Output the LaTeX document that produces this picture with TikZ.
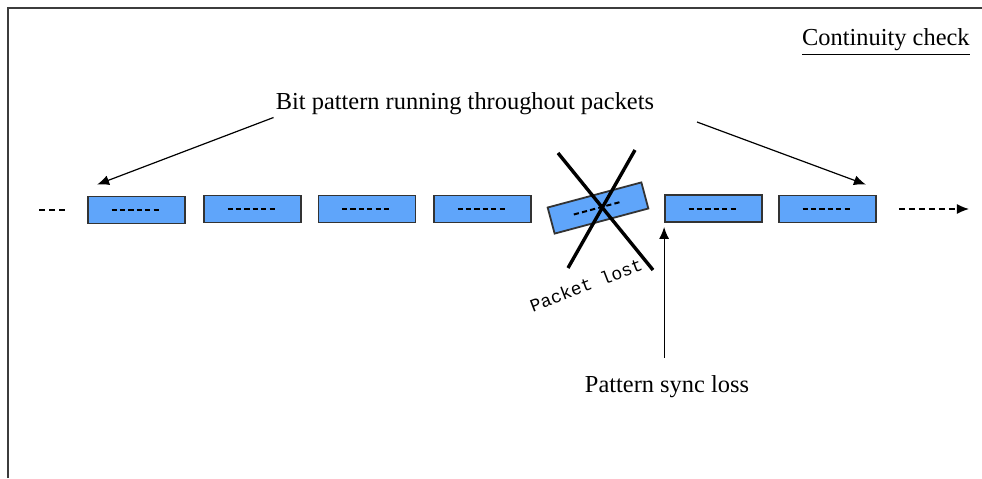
\documentclass[tikz,border=0pt]{standalone}
\usepackage{fontspec}
\setmainfont{Liberation Serif}
\newfontfamily\lostfont{Liberation Mono}
\usepackage{tikz}
\usetikzlibrary{arrows.meta,positioning}
\definecolor{pktblue}{RGB}{95,165,250}
\definecolor{framegray}{RGB}{60,60,60}
\tikzset{
  pkt/.style      ={draw=black!80,fill=pktblue,line width=0.9pt,inner sep=0pt,
                    minimum width=48.5pt,minimum height=13.5pt},
  bitdash/.style  ={line width=1pt,dash pattern=on 2.6pt off 1.6pt},
  lbl/.style      ={font=\fontsize{12.2}{14}\selectfont,inner sep=1pt},
  arr/.style      ={-{Latex[length=6pt,width=5pt]},semithick},
  dasharr/.style  ={-{Latex[length=6pt,width=5pt]},semithick,dash pattern=on 3pt off 2pt},
  crossline/.style={line width=1.7pt},
  frame/.style    ={draw=framegray,line width=0.9pt},
}

\begin{document}
\begin{tikzpicture}[x=0.5pt,y=-0.5pt]
\useasboundingbox (0,0) rectangle (982,478);

% frame (top and left edge only)
\draw[frame] (8,478) -- (8,8) -- (982,8);

\node[lbl,anchor=east] (title) at (972,42) {\underline{Continuity check}};

% packets in the stream
\foreach \n/\x/\y in {p1/136.5/210,p2/252.5/209,p3/367/209,p4/482.5/209,
                      p6/713.5/208.5,p7/827.5/209}{
  \node[pkt] (\n) at (\x,\y) {};
  \draw[bitdash] ([xshift=-12.5pt]\n.center) -- ([xshift=12.5pt]\n.center);
}

% the lost packet
\node[pkt,rotate=15] (p5) at (598,208) {};
\draw[bitdash,rotate around={15:(p5.center)}]
   ([xshift=-12.5pt]p5.center) -- ([xshift=12.5pt]p5.center);
\draw[crossline] (558,153) -- (653,270);
\draw[crossline] (635,150) -- (568,268);
\node[font=\lostfont\fontsize{9}{10}\selectfont,rotate=21] (lost) at (586,285) {Packet lost};

% stream continues on both sides
\draw[semithick,dash pattern=on 3pt off 2pt] ([xshift=-24pt]p1.west) -- ([xshift=-10.5pt]p1.west);
\draw[dasharr] ([xshift=11pt]p7.east) -- ([xshift=46pt]p7.east);

% bit pattern label
\node[lbl] (bitlbl) at (465,104) {Bit pattern running throughout packets};
\coordinate (bitR) at (697,122);
\draw[arr] (bitlbl.south west) -- ([xshift=5pt,yshift=5.5pt]p1.north west);
\draw[arr] (bitR) -- ([xshift=-5.5pt,yshift=5pt]p7.north east);

% sync loss
\node[lbl] (sync) at (667,387) {Pattern sync loss};
\draw[arr] ([yshift=8pt]sync.north -| p6.south west) -- ([yshift=-2pt]p6.south west);

\end{tikzpicture}
\end{document}
